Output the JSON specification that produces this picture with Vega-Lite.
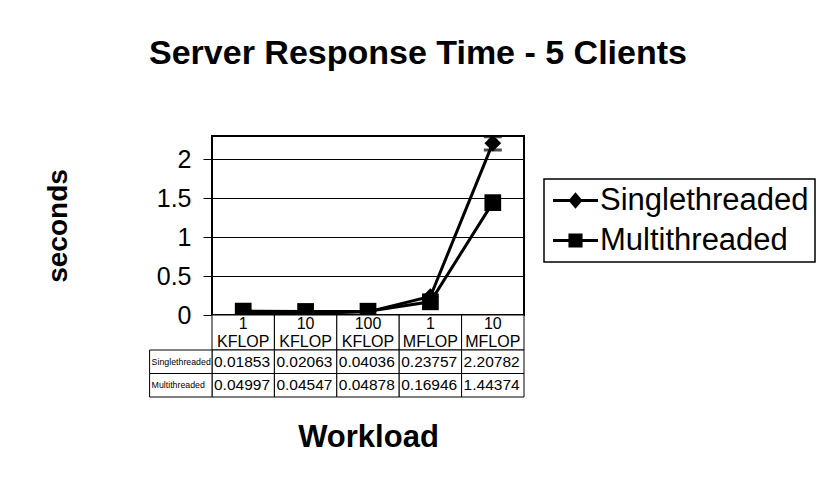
{
  "$schema": "https://vega.github.io/schema/vega-lite/v6.json",
  "padding": {"left": 43, "top": 36, "right": 0, "bottom": 0},
  "background": "white",
  "bounds": "flush",
  "config": {
    "font": "Liberation Sans",
    "view": {"stroke": null},
    "text": {"font": "Liberation Sans", "color": "black"},
    "axis": {"labelColor": "black", "titleColor": "black", "labelFont": "Liberation Sans", "titleFont": "Liberation Sans"},
    "legend": {"strokeColor": "black", "strokeWidth": 1.5}
  },
  "title": {"text": "Server Response Time - 5 Clients", "fontSize": 34, "fontWeight": "bold", "color": "black", "anchor": "middle", "offset": 63, "dx": -12},
  "datasets": {
    "main": [
      {"workload": "1 KFLOP", "series": "Singlethreaded", "seconds": 0.01853},
      {"workload": "10 KFLOP", "series": "Singlethreaded", "seconds": 0.02063},
      {"workload": "100 KFLOP", "series": "Singlethreaded", "seconds": 0.04036},
      {"workload": "1 MFLOP", "series": "Singlethreaded", "seconds": 0.23757},
      {"workload": "10 MFLOP", "series": "Singlethreaded", "seconds": 2.20782},
      {"workload": "1 KFLOP", "series": "Multithreaded", "seconds": 0.04997},
      {"workload": "10 KFLOP", "series": "Multithreaded", "seconds": 0.04547},
      {"workload": "100 KFLOP", "series": "Multithreaded", "seconds": 0.04878},
      {"workload": "1 MFLOP", "series": "Multithreaded", "seconds": 0.16946},
      {"workload": "10 MFLOP", "series": "Multithreaded", "seconds": 1.44374}
    ],
    "err": [
      {"workload": "10 MFLOP", "series": "Singlethreaded", "lo": 2.12, "hi": 2.29}
    ],
    "workloads": [
      {"workload": "1 KFLOP"},
      {"workload": "10 KFLOP"},
      {"workload": "100 KFLOP"},
      {"workload": "1 MFLOP"},
      {"workload": "10 MFLOP"}
    ],
    "rows": [
      {"series": "Singlethreaded"},
      {"series": "Multithreaded"}
    ]
  },
  "spacing": 0,
  "vconcat": [
    {
      "width": 312,
      "height": 179,
      "view": {"stroke": "black", "strokeWidth": 2},
      "resolve": {"scale": {"shape": "independent"}, "legend": {"shape": "independent"}},
      "layer": [
        {
          "data": {"name": "main"},
          "mark": {"type": "line", "color": "black", "strokeWidth": 3},
          "encoding": {
            "x": {"field": "workload", "type": "nominal", "sort": null, "scale": {"type": "point", "padding": 0.5, "domain": ["1 KFLOP", "10 KFLOP", "100 KFLOP", "1 MFLOP", "10 MFLOP"]}, "axis": null},
            "y": {"field": "seconds", "type": "quantitative", "scale": {"domain": [0, 2.3], "nice": false}, "axis": {"values": [0, 0.5, 1, 1.5, 2], "format": "~g", "grid": true, "gridColor": "black", "gridWidth": 1, "gridOpacity": 1, "domain": false, "ticks": true, "tickColor": "black", "tickSize": 9, "tickWidth": 1, "labelFontSize": 25, "labelPadding": 12, "title": "seconds", "titleFontSize": 28, "titleFontWeight": "bold", "titlePadding": 84}},
            "detail": {"field": "series"}
          }
        },
        {
          "data": {"name": "err"},
          "mark": {"type": "rule", "color": "black", "strokeWidth": 2.5},
          "encoding": {
            "x": {"field": "workload", "type": "nominal"},
            "y": {"field": "lo", "type": "quantitative"},
            "y2": {"field": "hi"}
          }
        },
        {
          "data": {"name": "err"},
          "mark": {"type": "tick", "color": "black", "thickness": 3, "size": 18, "orient": "horizontal"},
          "encoding": {
            "x": {"field": "workload", "type": "nominal"},
            "y": {"field": "lo", "type": "quantitative"}
          }
        },
        {
          "data": {"name": "err"},
          "mark": {"type": "tick", "color": "black", "thickness": 3, "size": 18, "orient": "horizontal"},
          "encoding": {
            "x": {"field": "workload", "type": "nominal"},
            "y": {"field": "hi", "type": "quantitative"}
          }
        },
        {
          "data": {"name": "main"},
          "mark": {"type": "point", "filled": true, "color": "black", "opacity": 1, "size": 280},
          "encoding": {
            "x": {"field": "workload", "type": "nominal"},
            "y": {"field": "seconds", "type": "quantitative"},
            "shape": {
              "field": "series", "type": "nominal",
              "scale": {"domain": ["Singlethreaded", "Multithreaded"], "range": ["diamond", "square"]},
              "legend": null
            }
          }
        },
        {
          "data": {"name": "main"},
          "mark": {"type": "point", "filled": true, "color": "black", "size": 0},
          "encoding": {
            "x": {"field": "workload", "type": "nominal"},
            "y": {"field": "seconds", "type": "quantitative"},
            "shape": {
              "field": "series", "type": "nominal",
              "scale": {"domain": ["Singlethreaded", "Multithreaded"], "range": ["M-1.5,-0.1H1.5V0.1H-1.5Z M0,-0.55L0.47,0L0,0.55L-0.47,0Z", "M-1.5,-0.1H1.5V0.1H-1.5Z M-0.47,-0.47H0.47V0.47H-0.47Z"]},
              "legend": {
                "title": null, "orient": "none", "legendX": 332, "legendY": 43,
                "padding": 6,
                "labelFontSize": 31, "labelColor": "black", "labelFont": "Liberation Sans", "labelLimit": 0,
                "symbolSize": 900, "symbolFillColor": "black", "symbolStrokeColor": "black", "symbolStrokeWidth": 0,
                "symbolOffset": 10, "rowPadding": 8, "labelOffset": 9, "symbolOpacity": 1
              }
            }
          }
        }
      ]
    },
    {
      "width": 312,
      "height": 35,
      "data": {"name": "workloads"},
      "layer": [
        {
          "mark": {"type": "rect", "fill": "white", "stroke": "black", "strokeWidth": 1},
          "encoding": {
            "x": {"field": "workload", "type": "nominal", "sort": null, "scale": {"type": "band", "paddingInner": 0, "paddingOuter": 0, "domain": ["1 KFLOP", "10 KFLOP", "100 KFLOP", "1 MFLOP", "10 MFLOP"]}, "axis": {"labels": false, "ticks": false, "domain": false, "title": "Workload", "titleFontSize": 31, "titleFontWeight": "bold", "titlePadding": 72}}
          }
        },
        {
          "mark": {"type": "text", "lineBreak": " ", "fontSize": 16, "lineHeight": 18, "baseline": "middle", "align": "center", "dy": -9},
          "encoding": {
            "x": {"field": "workload", "type": "nominal"},
            "text": {"field": "workload"}
          }
        }
      ]
    },
    {
      "width": 312,
      "height": 47,
      "layer": [
        {
          "data": {"name": "main"},
          "mark": {"type": "rect", "fill": "white", "stroke": "black", "strokeWidth": 1},
          "encoding": {
            "x": {"field": "workload", "type": "nominal", "scale": {"type": "band", "paddingInner": 0, "paddingOuter": 0, "domain": ["hdr", "1 KFLOP", "10 KFLOP", "100 KFLOP", "1 MFLOP", "10 MFLOP"], "range": [-62.4, 312]}, "axis": null},
            "y": {"field": "series", "type": "nominal", "scale": {"domain": ["Singlethreaded", "Multithreaded"], "paddingInner": 0, "paddingOuter": 0}, "axis": null}
          }
        },
        {
          "data": {"name": "main"},
          "mark": {"type": "text", "fontSize": 15.5, "align": "left", "baseline": "middle", "dx": 2},
          "encoding": {
            "x": {"field": "workload", "type": "nominal", "bandPosition": 0},
            "y": {"field": "series", "type": "nominal"},
            "text": {"field": "seconds", "type": "quantitative", "format": ".5f"}
          }
        },
        {
          "data": {"name": "rows"},
          "mark": {"type": "rect", "fill": "white", "stroke": "black", "strokeWidth": 1},
          "encoding": {
            "x": {"datum": "hdr", "type": "nominal"},
            "y": {"field": "series", "type": "nominal"}
          }
        },
        {
          "data": {"name": "rows"},
          "mark": {"type": "text", "fontSize": 8.8, "align": "left", "baseline": "middle", "dx": 2},
          "encoding": {
            "x": {"datum": "hdr", "type": "nominal", "bandPosition": 0},
            "y": {"field": "series", "type": "nominal"},
            "text": {"field": "series"}
          }
        }
      ]
    }
  ]
}
